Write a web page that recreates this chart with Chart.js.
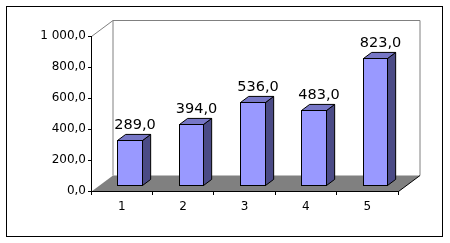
<!DOCTYPE html>
<html>
<head>
<meta charset="utf-8">
<script src="https://cdn.jsdelivr.net/npm/chart.js@4"></script>
<style>
    html, body { margin: 0; padding: 0; background: #fff; }
    canvas { display: block; }
</style>
</head>
<body>
<canvas id="chart" width="450" height="243"></canvas>
<script>
// Chart data
const categories = ['1', '2', '3', '4', '5'];
const values = [289, 394, 536, 483, 823];
const yTicks = [0, 200, 400, 600, 800, 1000];

// depth of the 3D box (floor / wall offset), bar position in depth
const depth = { x: 21.5, y: -16 };
const frontShare = 0.36;
const barShare = 0.38;

Chart.defaults.font.family = "'DejaVu Sans', sans-serif";
Chart.defaults.font.size = 12;
Chart.defaults.color = '#000';

function formatValue(v) {
    const parts = v.toFixed(1).split('.');
    const intPart = parts[0].replace(/\B(?=(\d{3})+(?!\d))/g, ' ');
    return intPart + ',' + parts[1];
}

const box3d = {
    id: 'box3d',
    beforeDraw(chart) {
        const ctx = chart.ctx;
        const a = chart.chartArea;
        ctx.save();
        ctx.fillStyle = '#fff';
        ctx.fillRect(0, 0, chart.width, chart.height);

        // outer frame
        ctx.strokeStyle = '#000';
        ctx.lineWidth = 1;
        ctx.strokeRect(6.5, 6.5, 436, 230);

        const L = Math.round(a.left) + 0.5, R = Math.round(a.right) + 0.5;
        const T = Math.round(a.top) + 0.5, B = Math.round(a.bottom) + 0.5;
        const dx = depth.x, dy = depth.y;

        // back wall
        ctx.strokeStyle = '#808080';
        ctx.beginPath();
        ctx.moveTo(L, T);
        ctx.lineTo(L + dx, T + dy);
        ctx.lineTo(R + dx, T + dy);
        ctx.lineTo(R + dx, B + dy);
        ctx.moveTo(L + dx, T + dy);
        ctx.lineTo(L + dx, B + dy);
        ctx.stroke();

        // floor
        ctx.fillStyle = '#808080';
        ctx.beginPath();
        ctx.moveTo(L, B);
        ctx.lineTo(R, B);
        ctx.lineTo(R + dx, B + dy);
        ctx.lineTo(L + dx, B + dy);
        ctx.closePath();
        ctx.fill();
        ctx.restore();
    },
    beforeDatasetsDraw() {
        // bars are drawn as boxes below
        return false;
    },
    afterDraw(chart) {
        const ctx = chart.ctx;
        const a = chart.chartArea;
        const meta = chart.getDatasetMeta(0);
        const fx = depth.x * frontShare, fy = depth.y * frontShare;
        const bx = depth.x * barShare, by = depth.y * barShare;

        ctx.save();
        ctx.lineWidth = 1;
        ctx.strokeStyle = '#000';
        ctx.lineJoin = 'miter';

        // right floor edge
        ctx.beginPath();
        ctx.moveTo(Math.round(a.right) + 0.5, Math.round(a.bottom) + 0.5);
        ctx.lineTo(Math.round(a.right) + 0.5 + depth.x, Math.round(a.bottom) + 0.5 + depth.y);
        ctx.stroke();

        meta.data.forEach((bar, i) => {
            const p = bar.getProps(['x', 'y', 'base', 'width'], true);
            const x0 = Math.round(p.x - p.width / 2 + fx) + 0.5;
            const x1 = Math.round(p.x + p.width / 2 + fx) + 0.5;
            const yT = Math.round(p.y + fy) + 0.5;
            const yB = Math.round(p.base + fy) + 0.5;

            // side
            ctx.fillStyle = '#4b4b86';
            ctx.beginPath();
            ctx.moveTo(x1, yT);
            ctx.lineTo(x1 + bx, yT + by);
            ctx.lineTo(x1 + bx, yB + by);
            ctx.lineTo(x1, yB);
            ctx.closePath();
            ctx.fill();
            ctx.stroke();

            // top
            ctx.fillStyle = '#7777c6';
            ctx.beginPath();
            ctx.moveTo(x0, yT);
            ctx.lineTo(x1, yT);
            ctx.lineTo(x1 + bx, yT + by);
            ctx.lineTo(x0 + bx, yT + by);
            ctx.closePath();
            ctx.fill();
            ctx.stroke();

            // front
            ctx.fillStyle = '#9999ff';
            ctx.fillRect(x0, yT, x1 - x0, yB - yT);
            ctx.strokeRect(x0, yT, x1 - x0, yB - yT);

            // value label
            ctx.fillStyle = '#000';
            ctx.font = "14.5px 'DejaVu Sans'";
            ctx.textAlign = 'center';
            ctx.textBaseline = 'alphabetic';
            ctx.fillText(formatValue(values[i]), (x0 + x1) / 2 + bx / 2 + 1, yT + by - 5);
        });
        ctx.restore();
    }
};

new Chart(document.getElementById('chart'), {
    type: 'bar',
    data: {
        labels: categories,
        datasets: [{
            data: values,
            backgroundColor: '#9999ff',
            categoryPercentage: 1,
            barPercentage: 0.4
        }]
    },
    options: {
        responsive: false,
        animation: false,
        layout: { padding: { left: 0, top: 36, right: 52, bottom: 0 } },
        plugins: {
            legend: { display: false },
            tooltip: { enabled: false }
        },
        scales: {
            x: {
                afterFit: s => { s.height = 52; },
                grid: { drawOnChartArea: false, drawTicks: true, tickLength: 4, color: '#000', offset: true },
                border: { display: true, color: '#000' },
                ticks: { color: '#000', padding: 5 }
            },
            y: {
                min: yTicks[0],
                max: yTicks[yTicks.length - 1],
                afterFit: s => { s.width = 91; },
                afterBuildTicks: s => { s.ticks = yTicks.map(v => ({ value: v })); },
                grid: { drawOnChartArea: false, drawTicks: true, tickLength: 3, color: '#000' },
                border: { display: true, color: '#000' },
                ticks: {
                    color: '#000',
                    padding: 2,
                    callback: v => formatValue(v)
                }
            }
        }
    },
    plugins: [box3d]
});
</script>
</body>
</html>
